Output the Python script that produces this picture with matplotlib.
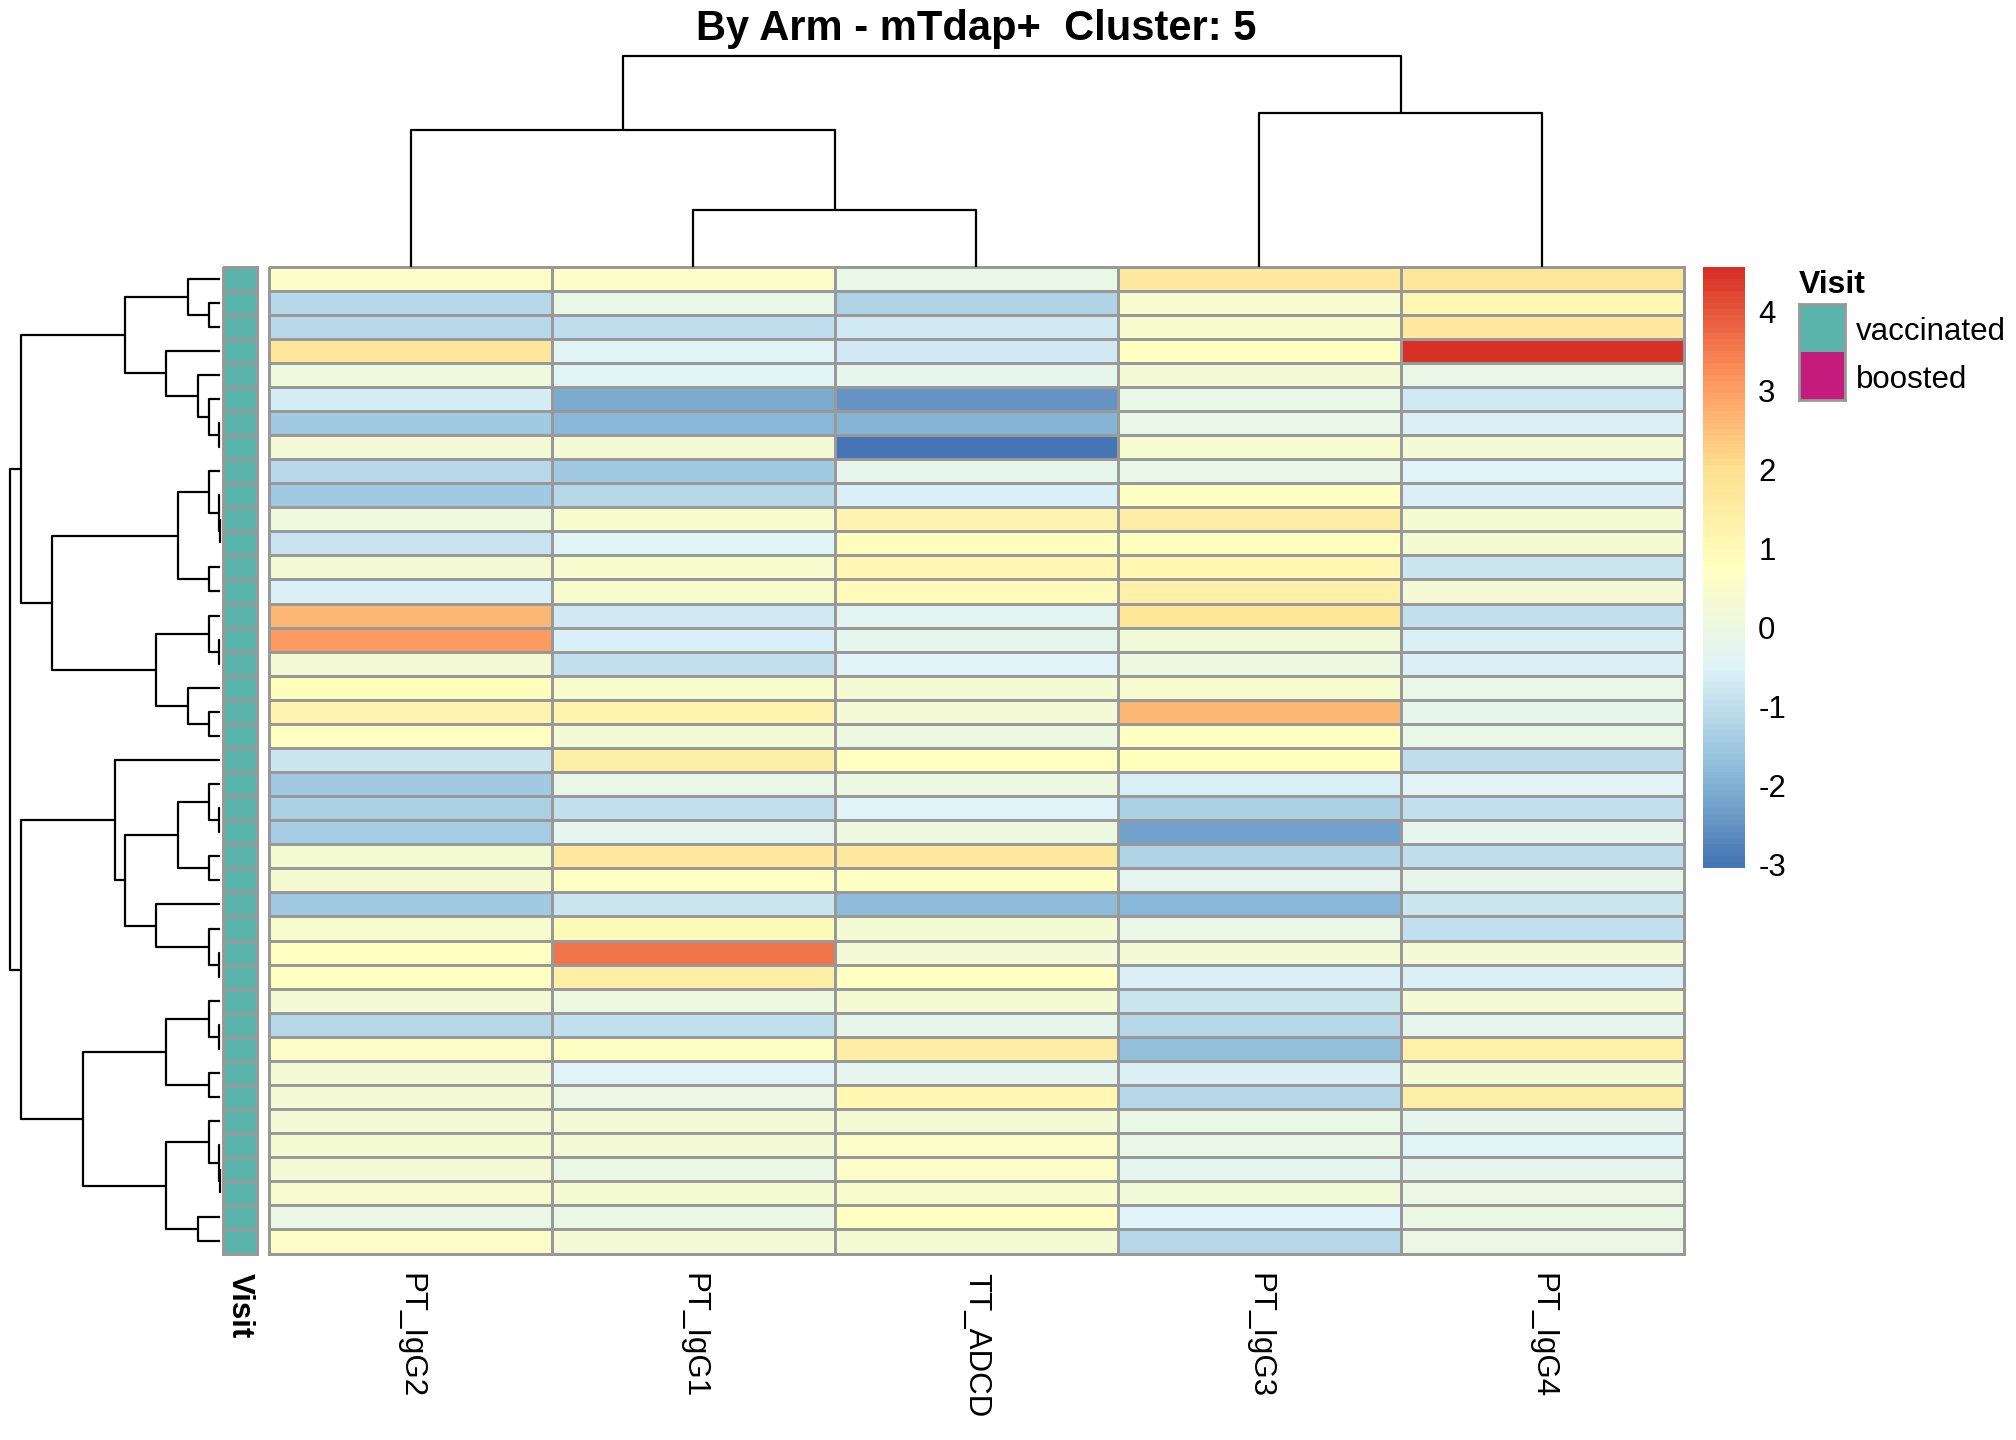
import matplotlib.pyplot as plt
import numpy as np
from matplotlib.colors import LinearSegmentedColormap, ListedColormap
from matplotlib.collections import LineCollection

plt.rcParams['font.family'] = ['Liberation Sans', 'DejaVu Sans']
plt.rcParams['axes.unicode_minus'] = False

title = "By Arm - mTdap+  Cluster: 5"
columns = ["PT_IgG2", "PT_IgG1", "TT_ADCD", "PT_IgG3", "PT_IgG4"]

# scaled values, rows in dendrogram order
values = np.array([
    [0.60, 0.60, -0.10, 1.60, 1.70],
    [-1.20, -0.10, -1.25, 0.45, 1.10],
    [-1.10, -1.00, -0.70, 0.45, 1.60],
    [1.70, -0.45, -0.70, 0.76, 4.57],
    [0.10, -0.45, -0.25, 0.25, -0.10],
    [-0.65, -2.10, -2.45, -0.10, -0.75],
    [-1.50, -1.90, -1.95, -0.10, -0.55],
    [0.25, 0.25, -3.05, 0.40, 0.25],
    [-1.10, -1.50, -0.30, -0.10, -0.50],
    [-1.50, -1.20, -0.55, 0.76, -0.55],
    [0.15, 0.40, 1.20, 1.50, 0.35],
    [-0.90, -0.45, 0.80, 0.80, 0.35],
    [0.30, 0.40, 1.10, 1.10, -0.80],
    [-0.60, 0.40, 0.85, 1.30, 0.30],
    [2.60, -0.75, -0.35, 1.80, -0.95],
    [3.05, -0.60, -0.25, 0.20, -0.55],
    [0.25, -0.95, -0.50, 0.05, -0.60],
    [0.80, 0.50, 0.35, 0.45, -0.10],
    [1.20, 1.20, 0.30, 2.60, -0.20],
    [0.70, 0.25, 0.05, 0.70, -0.15],
    [-0.80, 1.40, 0.75, 0.80, -1.00],
    [-1.50, -0.10, 0.05, -0.55, -0.45],
    [-1.35, -0.95, -0.50, -1.35, -0.95],
    [-1.40, -0.30, 0.05, -2.25, -0.30],
    [0.35, 1.60, 1.60, -1.25, -1.05],
    [0.35, 0.75, 0.75, -0.25, -0.20],
    [-1.50, -0.80, -1.80, -1.85, -0.80],
    [0.40, 0.95, 0.35, -0.10, -0.95],
    [0.75, 3.60, 0.30, 0.25, 0.25],
    [0.75, 1.40, 0.70, -0.55, -0.55],
    [0.30, 0.05, 0.35, -0.80, 0.30],
    [-1.20, -0.95, -0.20, -1.15, -0.30],
    [0.60, 0.65, 1.50, -1.70, 1.35],
    [0.30, -0.50, -0.30, -0.55, 0.35],
    [0.25, -0.05, 1.10, -1.15, 1.40],
    [0.25, 0.30, 0.35, -0.10, -0.25],
    [0.35, 0.30, 0.55, -0.10, -0.45],
    [0.25, -0.05, 0.55, -0.25, -0.25],
    [0.40, 0.35, 0.50, 0.20, -0.05],
    [-0.05, -0.05, 0.75, -0.50, -0.05],
    [0.60, 0.25, 0.35, -1.15, -0.05],
])
n_rows, n_cols = values.shape

visit = ["vaccinated"] * n_rows
visit_levels = ["vaccinated", "boosted"]
visit_colors = {"vaccinated": "#5AB4AC", "boosted": "#C51B7D"}

# merges as (left, right, height); leaves 0..n-1, new nodes numbered from n
row_merges = [
    (1, 2, 0.34), (0, 41, 0.97), (6, 7, 0.02), (5, 43, 0.34), (4, 44, 0.65),
    (3, 45, 1.62), (42, 46, 2.86), (10, 11, 0.01), (9, 48, 0.02), (8, 49, 0.34),
    (12, 13, 0.34), (50, 51, 1.27), (15, 16, 0.02), (14, 53, 0.34), (18, 19, 0.34),
    (17, 55, 0.97), (54, 56, 1.92), (52, 57, 5.05), (47, 58, 6.00),
    (22, 23, 0.02), (21, 60, 0.34), (24, 25, 0.34), (61, 62, 1.27), (28, 29, 0.02),
    (27, 64, 0.34), (26, 65, 1.92), (63, 66, 2.86), (20, 67, 3.17), (31, 32, 0.02),
    (30, 69, 0.34), (33, 34, 0.34), (70, 71, 1.62), (37, 38, 0.01), (36, 73, 0.02),
    (35, 74, 0.34), (39, 40, 0.65), (75, 76, 1.62), (72, 77, 4.12), (68, 78, 6.00),
    (59, 79, 6.32),
]
col_merges = [(1, 2, 0.268), (0, 5, 0.646), (3, 4, 0.726), (6, 7, 1.0)]

palette = ["#4575B4", "#91BFDB", "#E0F3F8", "#FFFFBF", "#FEE090", "#FC8D59", "#D73027"]
ramp = LinearSegmentedColormap.from_list("rdylbu", palette)
cmap = ListedColormap(ramp(np.linspace(0, 1, 100)))
grid_col = "#999999"


def dendro_segments(n, merges):
    pos = {i: i + 0.5 for i in range(n)}
    hgt = {i: 0.0 for i in range(n)}
    segs = []
    for k, (a, b, h) in enumerate(merges):
        segs.append([(pos[a], hgt[a]), (pos[a], h), (pos[b], h), (pos[b], hgt[b])])
        pos[n + k] = (pos[a] + pos[b]) / 2
        hgt[n + k] = h
    return segs


W, H = 2016, 1440
fig = plt.figure(figsize=(W / 100, H / 100), dpi=100)


def px_axes(left, top, right, bottom):
    return fig.add_axes([left / W, 1 - bottom / H, (right - left) / W, (bottom - top) / H])


hm_top, hm_bot = 266.5, 1253.5

# heatmap
ax = px_axes(269, hm_top, 1684, hm_bot)
mesh = ax.pcolormesh(values, cmap=cmap, vmin=values.min(), vmax=values.max(),
                     edgecolors=grid_col, linewidth=1.9)
mesh.set_clip_on(False)
ax.set_xlim(0, n_cols)
ax.set_ylim(n_rows, 0)
ax.set_xticks(np.arange(n_cols) + 0.5, columns, rotation=-90, fontsize=22.5)
ax.set_yticks([])
ax.tick_params(axis='x', length=0, pad=14)
for s in ax.spines.values():
    s.set_visible(False)

# annotation column
ann_cmap = ListedColormap([visit_colors[l] for l in visit_levels])
codes = np.array([visit_levels.index(v) for v in visit])[:, None]
ax_ann = px_axes(223, hm_top, 257, hm_bot)
am = ax_ann.pcolormesh(codes, cmap=ann_cmap, vmin=-0.5, vmax=1.5,
                       edgecolors=grid_col, linewidth=1.9)
am.set_clip_on(False)
ax_ann.set_xlim(0, 1)
ax_ann.set_ylim(n_rows, 0)
ax_ann.set_xticks([0.5], ["Visit"], rotation=-90, fontsize=22.5, fontweight='bold')
ax_ann.set_yticks([])
ax_ann.tick_params(axis='x', length=0, pad=14)
for s in ax_ann.spines.values():
    s.set_visible(False)

# row dendrogram
ax_rd = px_axes(10, hm_top, 220, hm_bot)
row_segs = [[(h, p) for p, h in seg] for seg in dendro_segments(n_rows, row_merges)]
ax_rd.add_collection(LineCollection(row_segs, colors='black', linewidths=1.6, clip_on=False))
ax_rd.set_xlim(max(m[2] for m in row_merges), 0)
ax_rd.set_ylim(n_rows, 0)
ax_rd.axis('off')

# column dendrogram
ax_cd = px_axes(269, 55.6, 1684, hm_top)
col_segs = dendro_segments(n_cols, col_merges)
ax_cd.add_collection(LineCollection(col_segs, colors='black', linewidths=1.6, clip_on=False))
ax_cd.set_xlim(0, n_cols)
ax_cd.set_ylim(0, max(m[2] for m in col_merges))
ax_cd.axis('off')

# colour legend
cax = px_axes(1703, 267, 1745, 868)
cb = fig.colorbar(mesh, cax=cax, ticks=range(-3, 5))
cb.outline.set_visible(False)
cax.tick_params(length=0, pad=9.5, labelsize=22.5)

# annotation legend
ax_leg = px_axes(1799, 304, 1845, 400)
ax_leg.pcolormesh(np.arange(len(visit_levels))[:, None], cmap=ann_cmap, vmin=-0.5, vmax=1.5)
ax_leg.set_ylim(len(visit_levels), 0)
ax_leg.set_xticks([])
ax_leg.yaxis.tick_right()
ax_leg.set_yticks(np.arange(len(visit_levels)) + 0.5, visit_levels, fontsize=22.5)
ax_leg.tick_params(axis='y', length=0, pad=8)
for s in ax_leg.spines.values():
    s.set_color(grid_col)
    s.set_linewidth(2)
ax_leg.set_title("Visit", loc='left', fontsize=23, fontweight='bold', pad=8)

fig.text(976.5 / W, 1 - 40 / H, title, ha='center', va='baseline',
         fontsize=30, fontweight='bold')

fig.savefig("out.png", dpi=100)
